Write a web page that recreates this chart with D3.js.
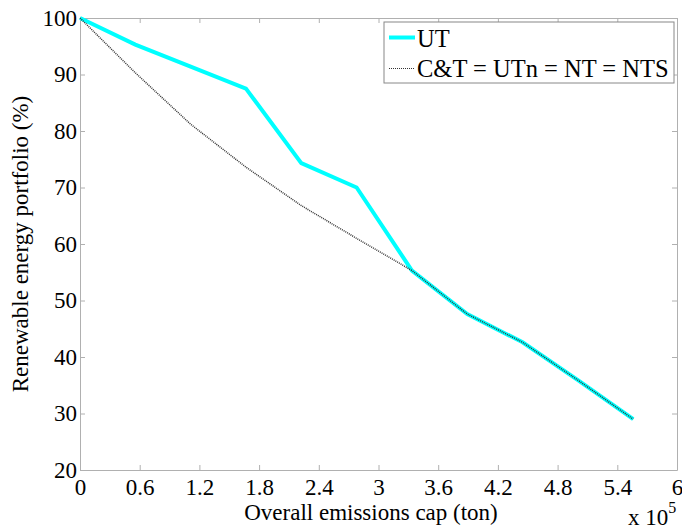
<!DOCTYPE html>
<html>
<head>
<meta charset="utf-8">
<script src="https://cdn.jsdelivr.net/npm/d3@7"></script>
<style>
  body { margin: 0; background: #fff; }
  svg text { font-family: "Liberation Serif"; }
  .axis path, .axis line { stroke: #b0b0b0; }
</style>
</head>
<body>
<div id="chart"></div>
<script>
// emissions cap (x 10^5 ton)
const capValues = [0, 0.556, 1.112, 1.668, 2.224, 2.78, 3.336, 3.892, 4.448, 5.004, 5.56]
// renewable energy portfolio (%)
const utValues = [100, 95.3, 91.4, 87.5, 74.3, 70.0, 55.3, 47.6, 42.6, 35.9, 29.0]
const otherValues = [100, 90.3, 81.2, 73.6, 66.8, 61.0, 55.3, 47.6, 42.6, 35.9, 29.0]

const xTicks = [0, 0.6, 1.2, 1.8, 2.4, 3, 3.6, 4.2, 4.8, 5.4, 6]
const yTicks = [20, 30, 40, 50, 60, 70, 80, 90, 100]

const seriesNames = ["UT", "C&T = UTn = NT = NTS"]

function drawChart() {
  let dimensions = {
    width: 682,
    height: 531,
    margin: { top: 18, right: 5, bottom: 61, left: 80 },
  }
  dimensions.boundedWidth = dimensions.width - dimensions.margin.left - dimensions.margin.right
  dimensions.boundedHeight = dimensions.height - dimensions.margin.top - dimensions.margin.bottom

  const wrapper = d3.select("#chart")
    .append("svg")
      .attr("width", dimensions.width)
      .attr("height", dimensions.height)

  const bounds = wrapper.append("g")
    .attr("transform", `translate(${dimensions.margin.left},${dimensions.margin.top})`)

  const xScale = d3.scaleLinear()
    .domain([0, 6])
    .range([0, dimensions.boundedWidth])

  const yScale = d3.scaleLinear()
    .domain([20, 100])
    .range([dimensions.boundedHeight, 0])

  // axes (ticks pointing inward, box all round)
  const fmt = d => String(d)
  bounds.append("g")
    .attr("class", "axis")
    .attr("transform", `translate(0,${dimensions.boundedHeight})`)
    .call(d3.axisBottom(xScale).tickValues(xTicks).tickFormat(fmt)
      .tickSizeInner(-5).tickSizeOuter(0).tickPadding(9))

  bounds.append("g")
    .attr("class", "axis")
    .call(d3.axisTop(xScale).tickValues(xTicks).tickFormat("")
      .tickSizeInner(-5).tickSizeOuter(0))

  bounds.append("g")
    .attr("class", "axis")
    .call(d3.axisLeft(yScale).tickValues(yTicks).tickFormat(fmt)
      .tickSizeInner(-5).tickSizeOuter(0).tickPadding(3))

  bounds.append("g")
    .attr("class", "axis")
    .attr("transform", `translate(${dimensions.boundedWidth},0)`)
    .call(d3.axisRight(yScale).tickValues(yTicks).tickFormat("")
      .tickSizeInner(-5).tickSizeOuter(0))

  bounds.selectAll(".axis text")
    .attr("font-size", 23)
    .attr("fill", "#000")

  // lines
  const utData = capValues.map((x, i) => ({ x, y: utValues[i] }))
  const otherData = capValues.map((x, i) => ({ x, y: otherValues[i] }))

  const lineGenerator = d3.line()
    .x(d => xScale(d.x))
    .y(d => yScale(d.y))

  bounds.append("path")
    .attr("d", lineGenerator(utData))
    .attr("fill", "none")
    .attr("stroke", "#00ffff")
    .attr("stroke-width", 4)

  bounds.append("path")
    .attr("d", lineGenerator(otherData))
    .attr("fill", "none")
    .attr("stroke", "#333")
    .attr("stroke-width", 1.5)
    .attr("stroke-dasharray", "1,1")

  // legend
  const legend = bounds.append("g")
    .attr("transform", `translate(${384 - dimensions.margin.left},${22 - dimensions.margin.top})`)

  legend.append("rect")
    .attr("width", 290)
    .attr("height", 61)
    .attr("fill", "#fff")
    .attr("stroke", "#888")
    .attr("stroke-width", 1)

  legend.append("line")
    .attr("x1", 5).attr("x2", 31)
    .attr("y1", 15.5).attr("y2", 15.5)
    .attr("stroke", "#00ffff")
    .attr("stroke-width", 4)

  legend.append("line")
    .attr("x1", 5).attr("x2", 31)
    .attr("y1", 46.5).attr("y2", 46.5)
    .attr("stroke", "#333")
    .attr("stroke-width", 1)
    .attr("stroke-dasharray", "1,1")

  legend.selectAll(".legendText")
    .data(seriesNames)
    .join("text")
      .attr("class", "legendText")
      .attr("x", 33)
      .attr("y", (d, i) => 24.5 + i * 30)
      .attr("font-size", 24.5)
      .text(d => d)

  // axis labels
  wrapper.append("text")
    .attr("x", 371)
    .attr("y", 520)
    .attr("text-anchor", "middle")
    .attr("font-size", 23)
    .text("Overall emissions cap (ton)")

  wrapper.append("text")
    .attr("transform", `translate(28,${244}) rotate(-90)`)
    .attr("text-anchor", "middle")
    .attr("font-size", 23)
    .text("Renewable energy portfolio (%)")

  const mult = wrapper.append("text")
    .attr("x", 628)
    .attr("y", 525)
    .attr("font-size", 23)
  mult.append("tspan").text("x 10")
  mult.append("tspan")
    .attr("dy", -12)
    .attr("font-size", 16)
    .text("5")
}

drawChart()
</script>
</body>
</html>
